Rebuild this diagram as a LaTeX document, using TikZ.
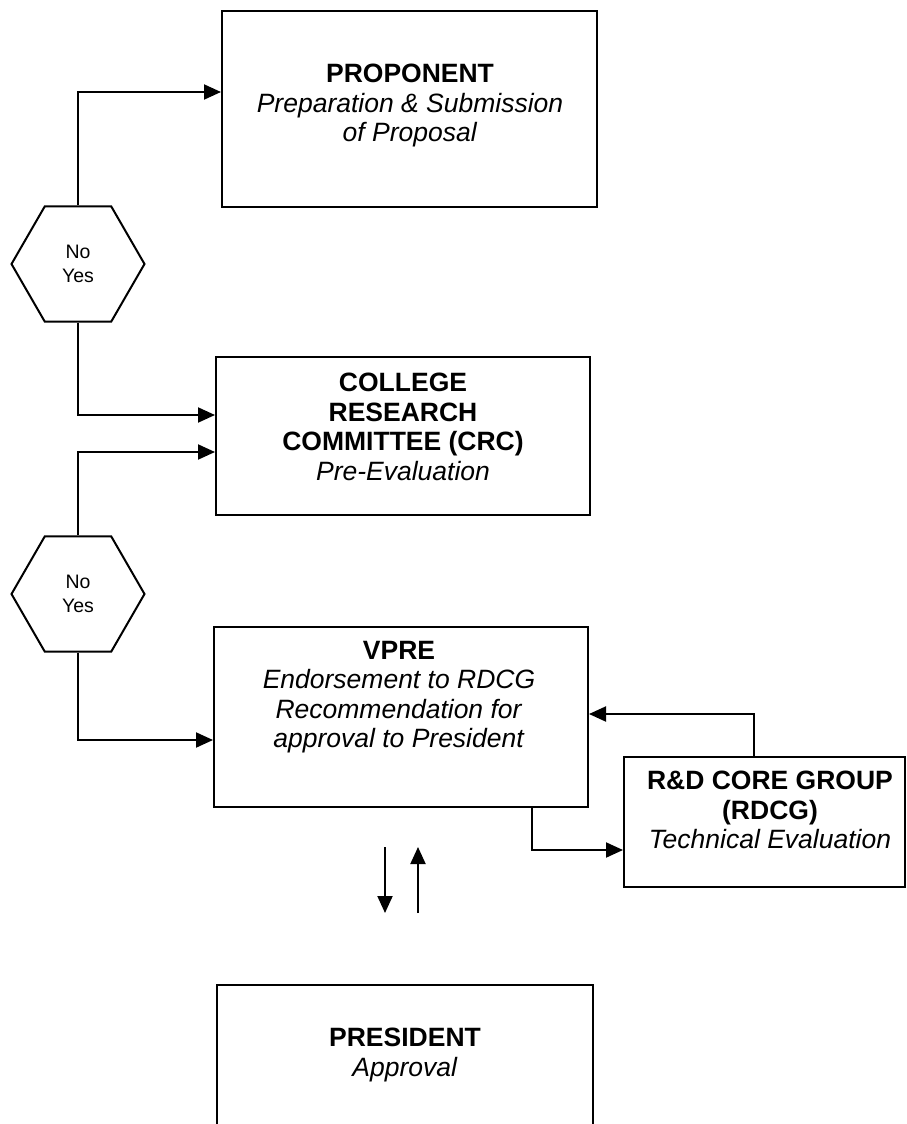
\documentclass[tikz,border=0pt]{standalone}
\usepackage{fontspec}
\setmainfont{Liberation Sans}
\usetikzlibrary{arrows.meta,shapes.geometric}
\begin{document}
\begin{tikzpicture}[x=1pt,y=-1pt,
  box/.style={draw, line width=2pt, rectangle, inner sep=0pt},
  hexa/.style={draw, line width=2pt, regular polygon, regular polygon sides=6,
    minimum size=133pt, inner sep=0pt, align=center,
    font=\fontsize{19.5}{24}\selectfont},
  txt/.style={inner sep=0pt, anchor=north, align=center,
    font=\fontsize{26.5}{29.5}\selectfont},
  arr/.style={line width=2pt, -{Triangle[length=17pt,width=15pt]}}]
\useasboundingbox (0,0) rectangle (906,1124);
\clip (0,0) rectangle (906,1124);
% boxes
\node[box, minimum width=375pt, minimum height=196pt] (prop) at (409.5,109) {};
\node[box, minimum width=374pt, minimum height=158pt] (crc) at (403,436) {};
\node[box, minimum width=374pt, minimum height=180pt] (vpre) at (401,717) {};
\node[box, minimum width=281pt, minimum height=130pt] (rdcg) at (764.5,822) {};
\node[box, minimum width=376pt, minimum height=190pt] (pres) at (405,1080) {};
% texts
\node[txt] (propt) at (410,64) {\textbf{PROPONENT}\\\textit{Preparation \& Submission}\\\textit{of Proposal}};
\node[txt] (crct) at (403,373) {\textbf{COLLEGE}\\\textbf{RESEARCH}\\\textbf{COMMITTEE (CRC)}\\\textit{Pre-Evaluation}};
\node[txt] (vpret) at (399,641) {\textbf{VPRE}\\\textit{Endorsement to RDCG}\\\textit{Recommendation for}\\\textit{approval to President}};
\node[txt] (rdcgt) at (770,771) {\textbf{R\&D CORE GROUP}\\\textbf{(RDCG)}\\\textit{Technical Evaluation}};
\node[txt] (prest) at (405,1028) {\textbf{PRESIDENT}\\\textit{Approval}};
% decisions
\node[hexa] (hex1) at (78,264) {No\\Yes};
\node[hexa] (hex2) at (78,594) {No\\Yes};
% connectors
\draw[arr] (hex1.north) |- (prop.west |- 0,92);
\draw[arr] (hex1.south) |- (crc.west |- 0,415);
\draw[arr] (hex2.north) |- (crc.west |- 0,452);
\draw[arr] (hex2.south) |- (vpre.west |- 0,740);
\draw[arr] (rdcg.north -| 754,0) |- (vpre.east |- 0,714);
\draw[arr] (vpre.south -| 532,0) |- (rdcg.west |- 0,850);
\coordinate (d1) at (385,847);
\coordinate (d2) at (385,913);
\coordinate (u1) at (418,913);
\coordinate (u2) at (418,847);
\draw[arr] (d1) -- (d2);
\draw[arr] (u1) -- (u2);
\end{tikzpicture}
\end{document}
